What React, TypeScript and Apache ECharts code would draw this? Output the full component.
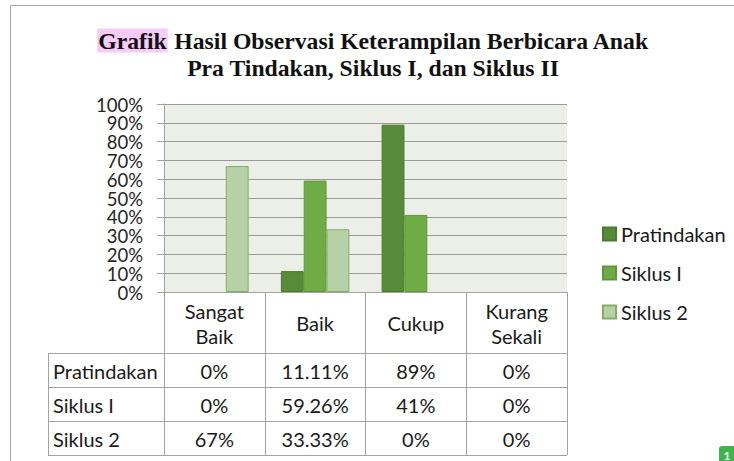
import React, { useEffect, useRef } from 'react';
import * as echarts from 'echarts';

const categories = ['Sangat\nBaik', 'Baik', 'Cukup', 'Kurang\nSekali'];
const seriesNames = ['Pratindakan', 'Siklus I', 'Siklus 2'];
const pratindakan = [0, 11.11, 89, 0];
const siklus1 = [0, 59.26, 41, 0];
const siklus2 = [67, 33.33, 0, 0];
const yTicks = [0, 10, 20, 30, 40, 50, 60, 70, 80, 90, 100];
const titleHighlight = 'Grafik';
const titleRest = 'Hasil Observasi Keterampilan Berbicara Anak';
const titleLine2 = 'Pra Tindakan, Siklus I, dan Siklus II';
const pageBadge = '1';

const FONT = 'Lato, "Noto Sans", sans-serif';
const FS = 20;
const GRID_LEFT = 164;
const GRID_RIGHT_X = 567;
const GRID_TOP = 104;
const GRID_BOTTOM_Y = 292;
const HEADER_BOTTOM = 353;
const ROW_H = 34;
const TABLE_LEFT = 48;
const LINE_COLOR = '#A3A3A3';
const SERIF = '"Liberation Serif", "DejaVu Serif", serif';

const fills = ['#588B37', '#6FAC46', '#B5D1A5'];
const borders = ['#4B7A2E', '#5E973B', '#83AC6B'];

const fmt = (v: number) => (Number.isInteger(v) ? `${v}%` : `${v.toFixed(2)}%`);

export default function App() {
  const ref = useRef<HTMLDivElement>(null);
  useEffect(() => {
    if (!ref.current) return;
    const chart = echarts.init(ref.current, null, { renderer: 'svg' });
    const allSeries = [pratindakan, siklus1, siklus2];
    chart.setOption({
      animation: false,
      backgroundColor: '#FFFFFF',
      grid: {
        left: GRID_LEFT,
        right: 734 - GRID_RIGHT_X,
        top: GRID_TOP,
        bottom: 461 - GRID_BOTTOM_Y,
        show: true,
        backgroundColor: '#EBEFE7',
        borderWidth: 0,
      },
      legend: {
        orient: 'vertical',
        left: 597,
        top: 219,
        itemWidth: 13,
        itemHeight: 13,
        itemGap: 19,
        icon: 'rect',
        data: seriesNames,
        textStyle: { fontFamily: FONT, fontSize: FS, color: '#1A1A1A' },
      },
      xAxis: {
        type: 'category',
        data: categories,
        axisLine: { show: true, lineStyle: { color: LINE_COLOR, width: 1 } },
        axisTick: {
          show: true,
          alignWithLabel: false,
          interval: 0,
          length: HEADER_BOTTOM + ROW_H * 3 - GRID_BOTTOM_Y,
          lineStyle: { color: LINE_COLOR, width: 1 },
        },
        axisLabel: {
          interval: 0,
          fontFamily: FONT,
          fontSize: FS,
          color: '#1A1A1A',
          lineHeight: 25,
          margin: 31,
          verticalAlign: 'middle',
        },
      },
      yAxis: {
        type: 'value',
        min: yTicks[0],
        max: yTicks[yTicks.length - 1],
        interval: yTicks[1] - yTicks[0],
        axisLine: { show: true, lineStyle: { color: LINE_COLOR, width: 1 } },
        axisTick: { show: true, length: 7, lineStyle: { color: LINE_COLOR } },
        splitLine: { show: true, showMinLine: true, showMaxLine: true, lineStyle: { color: '#9A9A9A', width: 1 } },
        axisLabel: { show: false },
      },
      series: seriesNames.map((name, i) => ({
        name,
        type: 'bar',
        barGap: '0%',
        barCategoryGap: '32%',
        data: allSeries[i].map((v) => (v === 0 ? '-' : v)),
        itemStyle: { color: fills[i], borderColor: borders[i], borderWidth: 1 },
      })),
    });

    const colX = categories.map((_, i) => chart.convertToPixel({ xAxisIndex: 0 }, i) as number);
    const graphics: any[] = [];
    graphics.push({
      type: 'rect',
      shape: { x: 10.5, y: 5.5, width: 900, height: 600 },
      style: { fill: 'none', stroke: '#A6A6A6', lineWidth: 1 },
      silent: true,
    });
    // y-axis tick labels placed through the axis scale
    yTicks.forEach((t) => {
      const py = chart.convertToPixel({ yAxisIndex: 0 }, t) as number;
      graphics.push({
        type: 'text',
        x: GRID_LEFT - 21,
        y: py + 0.5,
        style: { text: `${t}%`, fontFamily: FONT, fontSize: 18.5, fill: '#262626', align: 'right', verticalAlign: 'middle' },
      });
    });
    graphics.push({
      type: 'text',
      x: 373,
      y: 27,
      style: {
        text: `{hl|${titleHighlight}} ${titleRest}\n${titleLine2}`,
        align: 'center',
        verticalAlign: 'top',
        fontFamily: SERIF,
        fontWeight: 'bold',
        fontSize: 23.7,
        lineHeight: 27,
        fill: '#111111',
        rich: {
          hl: {
            fontFamily: SERIF,
            fontWeight: 'bold',
            fontSize: 23.7,
            lineHeight: 27,
            backgroundColor: '#F7CBF7',
            color: '#3A0C3A',
            padding: [0, 1, 0, 1],
          },
        },
      },
    });
    for (let r = 0; r <= 3; r++) {
      const y = HEADER_BOTTOM + r * ROW_H + 0.5;
      graphics.push({
        type: 'line',
        shape: { x1: TABLE_LEFT, y1: y, x2: GRID_RIGHT_X, y2: y },
        style: { stroke: LINE_COLOR, lineWidth: 1 },
      });
    }
    graphics.push({
      type: 'line',
      shape: { x1: TABLE_LEFT + 0.5, y1: HEADER_BOTTOM, x2: TABLE_LEFT + 0.5, y2: HEADER_BOTTOM + 3 * ROW_H },
      style: { stroke: LINE_COLOR, lineWidth: 1 },
    });
    seriesNames.forEach((name, r) => {
      const cy = HEADER_BOTTOM + r * ROW_H + ROW_H / 2 + 1;
      graphics.push({
        type: 'text',
        x: 53,
        y: cy,
        style: { text: name, fontFamily: FONT, fontSize: FS, fill: '#1A1A1A', align: 'left', verticalAlign: 'middle' },
      });
      allSeries[r].forEach((v, c) => {
        graphics.push({
          type: 'text',
          x: colX[c],
          y: cy,
          style: { text: fmt(v), fontFamily: FONT, fontSize: FS, fill: '#1A1A1A', align: 'center', verticalAlign: 'middle' },
        });
      });
    });
    graphics.push({
      type: 'rect',
      shape: { x: 719, y: 446, width: 20, height: 20, r: 3 },
      style: { fill: '#3DB54A' },
    });
    graphics.push({
      type: 'text',
      x: 727,
      y: 455,
      style: { text: pageBadge, fontFamily: FONT, fontSize: 12, fill: '#FFFFFF', align: 'center', verticalAlign: 'middle', fontWeight: 'bold' },
    });
    chart.setOption({ graphic: graphics });
    return () => chart.dispose();
  }, []);
  return <div ref={ref} style={{ position: 'fixed', left: 0, top: 0, width: 734, height: 461 }} />;
}
